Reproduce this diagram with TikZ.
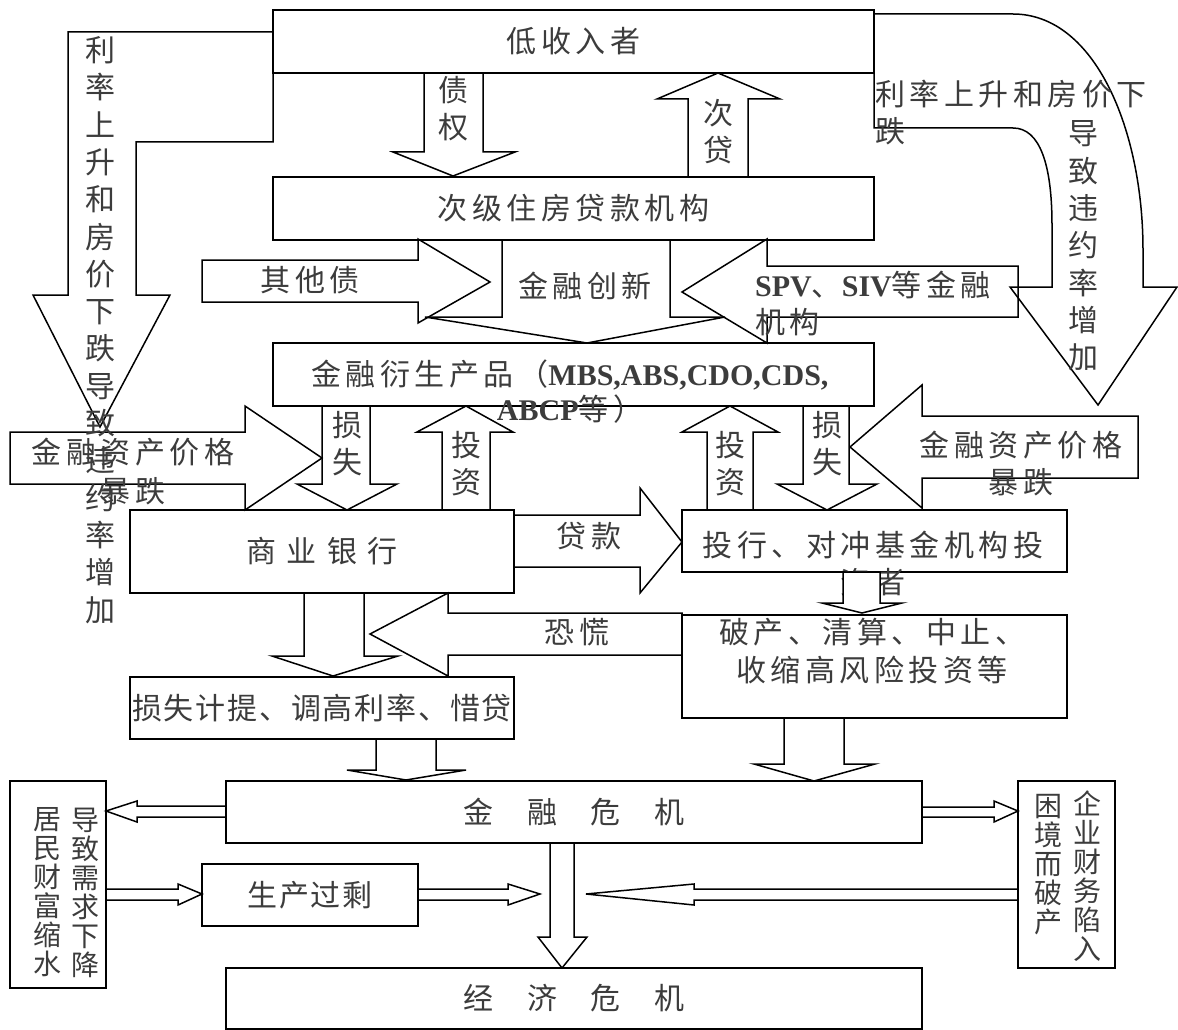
\documentclass[tikz,border=0pt]{standalone}
\usepackage{fontspec}
\setmainfont{Liberation Serif}
\newfontfamily\cjk[LetterSpace=15]{Noto Sans CJK SC}
\newfontfamily\cjkb[LetterSpace=6]{Noto Sans CJK SC}
\newfontfamily\cjkv{Noto Sans CJK SC}
\newfontfamily\tnr{Liberation Serif}
\definecolor{txtgray}{RGB}{60,60,60}
\tikzset{
  shp/.style={draw=black, line width=1.5pt, line join=miter},
  box/.style={draw=black, line width=1.5pt, inner sep=0pt, outer sep=0pt, text=txtgray,
    font=\cjk\fontsize{30}{36}\selectfont, align=center},
  txt/.style={inner sep=0pt, text=txtgray, font=\cjk\fontsize{30}{37}\selectfont, align=center},
  vtxt/.style={inner sep=0pt, text=txtgray, font=\cjkv\fontsize{30}{37.3}\selectfont, align=center},
  vsm/.style={inner sep=0pt, text=txtgray, font=\cjkv\fontsize{28}{29}\selectfont, align=center},
}
\begin{document}
\begin{tikzpicture}[x=1pt,y=-1pt]
\useasboundingbox (0,0) rectangle (1178,1030);

% ---------- boxes ----------
\node[box, minimum width=601pt, minimum height=63pt] (low) at (573.5,41.5) {低收入者};
\node[box, minimum width=601pt, minimum height=63pt] (sub) at (573.5,208.5) {次级住房贷款机构};
\node[box, minimum width=601pt, minimum height=63pt] (deriv) at (573.5,374.5) {};
\node[box, minimum width=384pt, minimum height=83pt] (bank) at (322,551.5) {商\hspace{10.5pt}业\hspace{10.5pt}银\hspace{10.5pt}行};
\node[box, minimum width=385pt, minimum height=62pt] (inv) at (874.5,541) {};
\node[box, minimum width=385pt, minimum height=103pt] (bankr) at (874.5,666.5) {};
\node[box, minimum width=384pt, minimum height=62pt, font=\cjkb\fontsize{30}{36}\selectfont] (prov) at (322,708) {损失计提、调高利率、惜贷};
\node[box, minimum width=696pt, minimum height=62pt] (fin) at (574,812) {金\hspace{33.5pt}融\hspace{33.5pt}危\hspace{33.5pt}机};
\node[box, minimum width=96pt, minimum height=207pt] (house) at (58,884.5) {};
\node[box, minimum width=216pt, minimum height=62pt, font=\cjkb\fontsize{30}{36}\selectfont] (over) at (310,895) {生产过剩};
\node[box, minimum width=97pt, minimum height=187pt] (firm) at (1066.5,874.5) {};
\node[box, minimum width=696pt, minimum height=61pt] (econ) at (574,998.5) {经\hspace{33.5pt}济\hspace{33.5pt}危\hspace{33.5pt}机};

% ---------- block arrows ----------
% big bent arrow on the left
\draw[shp] (273,32) -- (68,32) -- (68,295) -- (33,295) -- (100,427) -- (170,295)
  -- (136,295) -- (136,142) -- (273,142) -- cycle;
% 债权 down
\draw[shp] (424,73) -- (424,152) -- (393,152) -- (453,176) -- (515,152) -- (483,152) -- (483,73) -- cycle;
% 次贷 up
\draw[shp] (688,177) -- (688,99) -- (657,99) -- (718,73) -- (780,99) -- (748,99) -- (748,177) -- cycle;
% big curved arrow on the right
\draw[shp] (874,14) -- (1013,14) .. controls (1095,14) and (1143,130) .. (1143,250)
  -- (1143,287) -- (1177,287) -- (1098,405) -- (1010,287) -- (1052,287) -- (1052,225)
  .. controls (1052,165) and (1040,128) .. (1013,128) -- (874,128) -- cycle;
% 其他债
\draw[shp] (202,260) -- (418,260) -- (418,239) -- (490,282) -- (418,323) -- (418,302) -- (202,302) -- cycle;
% 金融创新 funnel
\draw[shp] (502,240) -- (502,317) -- (425,317) -- (587,343) -- (725,317) -- (670,317) -- (670,240) -- cycle;
% SPV arrow
\draw[shp] (1018,266) -- (767,266) -- (767,239) -- (682,292) -- (767,343) -- (767,317) -- (1018,317) -- cycle;
% 金融资产价格暴跌 (left, pointing right)
\draw[shp] (10,432) -- (245,432) -- (245,406) -- (322,458) -- (245,510) -- (245,484) -- (10,484) -- cycle;
% 损失 left
\draw[shp] (322,406) -- (322,484) -- (297,484) -- (347,510) -- (397,484) -- (370,484) -- (370,406) -- cycle;
% 投资 left
\draw[shp] (442,510) -- (442,432) -- (417,432) -- (466,406) -- (513,432) -- (490,432) -- (490,510) -- cycle;
% 贷款
\draw[shp] (514,515) -- (640,515) -- (640,488) -- (682,542) -- (640,593) -- (640,567) -- (514,567) -- cycle;
% 投资 right
\draw[shp] (707,510) -- (707,432) -- (682,432) -- (730,406) -- (778,432) -- (753,432) -- (753,510) -- cycle;
% 损失 right
\draw[shp] (803,406) -- (803,484) -- (777,484) -- (827,510) -- (877,484) -- (849,484) -- (849,406) -- cycle;
% 金融资产价格暴跌 (right, pointing left)
\draw[shp] (1138,416) -- (922,416) -- (922,385) -- (850,447) -- (922,508) -- (922,478) -- (1138,478) -- cycle;
% 商业银行 down
\draw[shp] (304,593) -- (304,656) -- (272,656) -- (333,676) -- (398,656) -- (364,656) -- (364,593) -- cycle;
% 恐慌
\draw[shp] (682,613) -- (448,613) -- (448,593) -- (370,634) -- (448,676) -- (448,655) -- (682,655) -- cycle;
% 损失计提 down
\draw[shp] (376,739) -- (376,770) -- (347,770) -- (406,780) -- (466,770) -- (436,770) -- (436,739) -- cycle;
% 破产 down
\draw[shp] (784,718) -- (784,764) -- (754,764) -- (814,781) -- (875,764) -- (844,764) -- (844,718) -- cycle;
% 金融危机 -> 居民
\draw[shp] (226,806) -- (137,806) -- (137,801) -- (106,811) -- (137,822) -- (137,817) -- (226,817);
% 金融危机 -> 企业
\draw[shp] (922,807) -- (994,807) -- (994,801) -- (1018,811) -- (994,822) -- (994,817) -- (922,817);
% 居民 -> 生产过剩
\draw[shp] (106,889) -- (178,889) -- (178,884) -- (202,894) -- (178,905) -- (178,900) -- (106,900);
% 生产过剩 ->
\draw[shp] (418,889) -- (508,889) -- (508,884) -- (540,894) -- (508,905) -- (508,900) -- (418,900);
% 企业 ->
\draw[shp] (1018,889) -- (694,889) -- (694,884) -- (586,894) -- (694,905) -- (694,900) -- (1018,900);
% 金融危机 -> 经济危机
\draw[shp] (550,843) -- (550,937) -- (538,937) -- (562,968) -- (587,937) -- (574,937) -- (574,843);

% ---------- texts ----------
\node[vtxt] (t-zq) at (453,109) {债\\权};
\node[vtxt] (t-cd) at (718,131.5) {次\\贷};
\node[txt] (t-qt) at (310,280) {其他债};
\node[txt] (t-cx) at (585,286) {金融创新};
\node[txt, align=left, anchor=west] (t-spv) at (755,303) {{\tnr\bfseries SPV}、{\tnr\bfseries SIV}等金融\\机构};
\node[txt, font=\cjk\fontsize{30}{35}\selectfont] (t-der) at (570,392) {金融衍生产品（{\tnr\bfseries MBS,ABS,CDO,CDS,}\\{\tnr\bfseries ABCP}等）};
\node[vtxt] (t-left) at (100,330) {利\\率\\上\\升\\和\\房\\价\\下\\跌\\导\\致\\违\\约\\率\\增\\加};
\node[txt, align=left, anchor=west] (t-r1) at (875,112.5) {利率上升和房价下\\跌};
\node[vtxt] (t-r2) at (1083,246) {导\\致\\违\\约\\率\\增\\加};
\node[txt, font=\cjk\fontsize{30}{39}\selectfont] (t-fa1) at (133,472) {金融资产价格\\暴跌};
\node[vtxt] (t-ss1) at (347,443.5) {损\\失};
\node[vtxt] (t-tz1) at (466,463.5) {投\\资};
\node[vtxt] (t-tz2) at (730,463.5) {投\\资};
\node[vtxt] (t-ss2) at (827,443.5) {损\\失};
\node[txt] (t-fa2) at (1021,463.5) {金融资产价格\\暴跌};
\node[txt] (t-dk) at (589,536) {贷款};
\node[txt] (t-inv) at (873,563.5) {投行、对冲基金机构投\\资者};
\node[txt] (t-kh) at (577,632) {恐慌};
\node[txt, font=\cjk\fontsize{30}{38}\selectfont] (t-br) at (872,651) {破产、清算、中止、\\收缩高风险投资等};
\node[vsm] (t-h1) at (47,892.5) {居\\民\\财\\富\\缩\\水};
\node[vsm] (t-h2) at (85,892.5) {导\\致\\需\\求\\下\\降};
\node[vsm] (t-f1) at (1087,876.5) {企\\业\\财\\务\\陷\\入};
\node[vsm] (t-f2) at (1048,864.5) {困\\境\\而\\破\\产};

% small arrow covering part of the text
\draw[shp, fill=white] (843,572) -- (843,603) -- (822,603) -- (862,613) -- (902,603) -- (880,603) -- (880,572) -- cycle;
\end{tikzpicture}
\end{document}
